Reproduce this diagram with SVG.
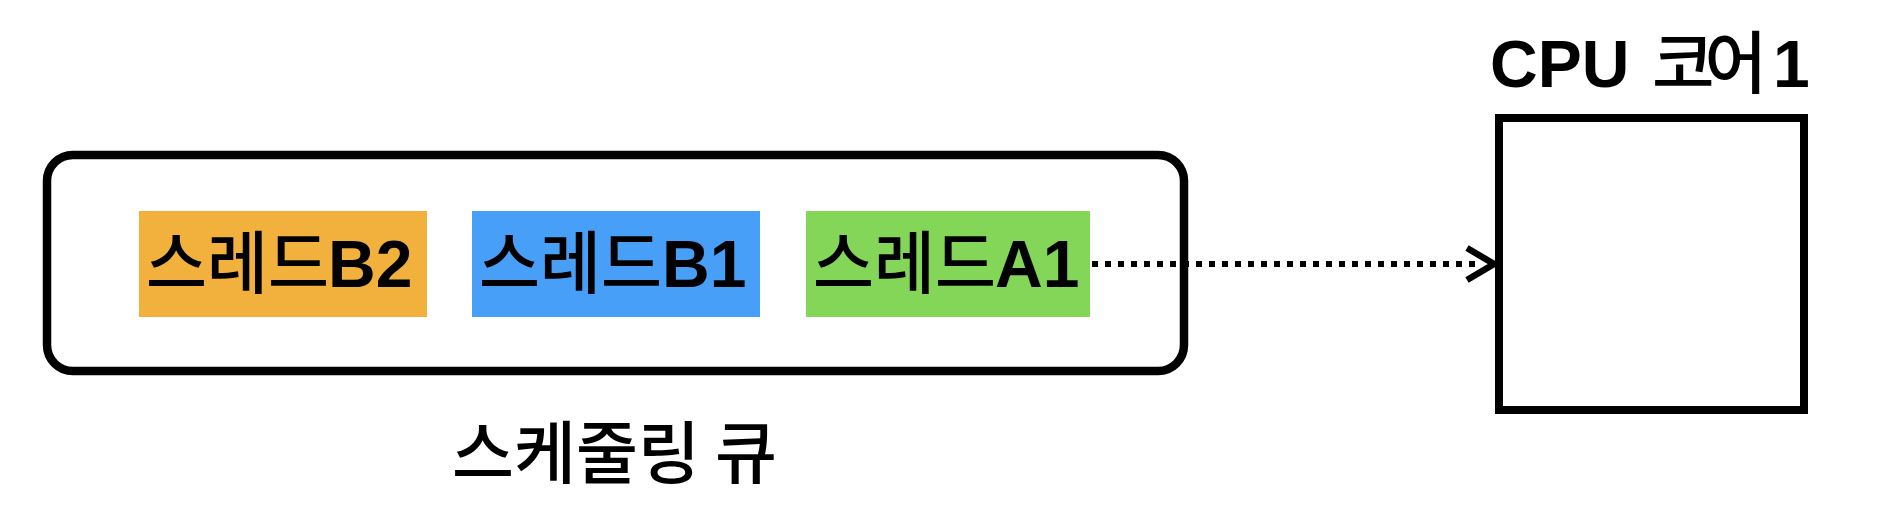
<svg xmlns="http://www.w3.org/2000/svg" width="1888" height="516" viewBox="0 0 1888 516">
<style>
.ko{font-family:"Noto Sans CJK KR",sans-serif;font-weight:500;font-size:68px;fill:#000;}
.lat{font-family:"Liberation Sans",Arial,sans-serif;font-weight:700;font-size:66px;fill:#000;}
.thread{stroke:none;}
.box{stroke:#000;fill:#fff;}
</style>
<rect width="1888" height="516" fill="#fff"/>
<g id="queue">
<rect class="box" x="47" y="155" width="1137" height="216" rx="26" ry="26" stroke-width="8.5"/>
<text class="ko" x="452" y="478" textLength="325" lengthAdjust="spacingAndGlyphs">스케줄링 큐</text>
</g>
<g id="threadB2">
<rect class="thread" x="139" y="211" width="288" height="106" fill="#F2B13D"/>
<text class="ko" x="146" y="288" textLength="183" lengthAdjust="spacingAndGlyphs">스레드</text>
<text class="lat" x="328" y="287">B2</text>
</g>
<g id="threadB1">
<rect class="thread" x="472" y="211" width="288" height="106" fill="#489FF8"/>
<text class="ko" x="479" y="288" textLength="183" lengthAdjust="spacingAndGlyphs">스레드</text>
<text class="lat" x="662" y="287">B1</text>
</g>
<g id="threadA1">
<rect class="thread" x="806" y="211" width="284" height="106" fill="#83D657"/>
<text class="ko" x="813" y="288" textLength="183" lengthAdjust="spacingAndGlyphs">스레드</text>
<text class="lat" x="995" y="287">A1</text>
</g>
<g id="cpu">
<rect class="box" x="1499" y="118" width="305" height="292" stroke-width="8"/>
<text x="1490" y="87"><tspan class="lat">CPU</tspan><tspan class="ko" x="1652" y="88" letter-spacing="-10">코어</tspan><tspan class="lat" x="1773" y="87">1</tspan></text>
</g>
<g id="connectors">
<line x1="1092" y1="264" x2="1482" y2="264" stroke="#000" stroke-width="6" stroke-dasharray="6 7"/>
<polyline points="1467,248 1494,264 1467,280" fill="none" stroke="#000" stroke-width="6.5"/>
</g>
</svg>
